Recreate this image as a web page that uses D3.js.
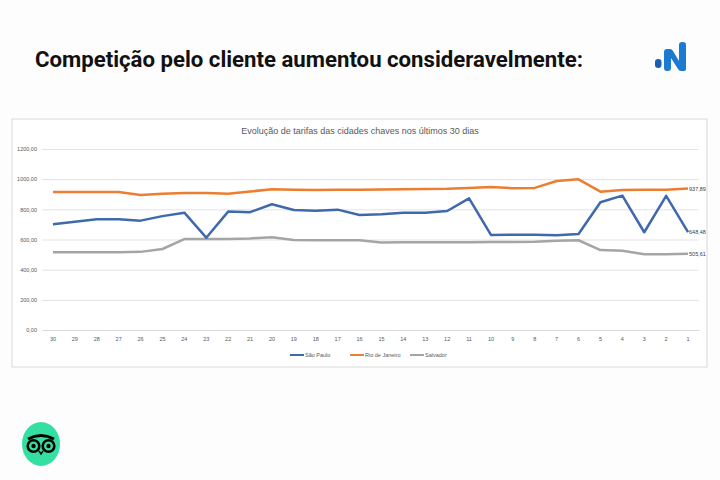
<!DOCTYPE html>
<html><head><meta charset="utf-8">
<script src="https://cdn.jsdelivr.net/npm/d3@7"></script>
<style>
html,body{margin:0;padding:0;background:#fdfdfd;}
svg{display:block;}
</style></head>
<body>
<svg id="c" width="720" height="480"></svg>
<script>
const days = ["30","29","28","27","26","25","24","23","22","21","20","19","18","17","16","15","14","13","12","11","10","9","8","7","6","5","4","3","2","1"];
const saoPaulo = [701,718,734,735,725,755,778,612,785,781,834,796,790,798,763,768,778,778,789,873,630,631,632,628,637,847,891,648,889,648.48];
const rioDeJaneiro = [915,915,915,915,895,903,908,908,903,918,933,930,928,930,930,932,933,935,936,942,948,940,942,988,999,917,928,930,930,937.89];
const salvador = [515,515,515,515,518,537,603,603,604,607,615,596,595,595,595,580,581,582,582,582,583,584,585,592,595,530,525,502,502,505.61];
const yTicks = [0,200,400,600,800,1000,1200];
const seriesNames = ["São Paulo","Rio de Janeiro","Salvador"];
const seriesColors = ["#3f68ad","#ed7d31","#a5a5a5"];
const chartTitle = "Evolução de tarifas das cidades chaves nos últimos 30 dias";
const headline = "Competição pelo cliente aumentou consideravelmente:";

const svg = d3.select("#c");
const fmt = v => d3.format(".2f")(v).replace(".", ",");

// headline
svg.append("text").attr("x",35).attr("y",67)
  .attr("font-family","Roboto, 'Noto Sans', sans-serif").attr("font-weight","700")
  .attr("font-size",22).attr("fill","#111")
  .attr("textLength",548).attr("lengthAdjust","spacingAndGlyphs")
  .text(headline);

// logo top-right
const lg = svg.append("g");
lg.append("rect").attr("x",655).attr("y",59).attr("width",6.5).attr("height",9).attr("rx",3.2).attr("fill","#1a5fae");
lg.append("path").attr("d","M664,52 Q664,49 667,49 L670,49 Q672,49 673,51 L679,61 L679,45 Q679,42 682,42 L683,42 Q686,42 686,45 L686,69 Q686,71 683,71 L681,71 Q679,71 678,69 L671,58 L671,68 Q671,71 668,71 L667,71 Q664,71 664,68 Z").attr("fill","#1c7ad0");

// chart box
svg.append("rect").attr("x",12).attr("y",119).attr("width",695).attr("height",248)
  .attr("fill","#ffffff").attr("stroke","#d9d9d9").attr("stroke-width",1);

svg.append("text").attr("x",360).attr("y",134).attr("text-anchor","middle")
  .attr("font-family","'Liberation Sans', Arial, sans-serif").attr("font-size",9).attr("fill","#595959")
  .text(chartTitle);

const x = d3.scaleBand().domain(days).range([42,699]);
const y = d3.scaleLinear().domain([0,1200]).range([330,149]);

// gridlines
const gy = svg.append("g").attr("transform","translate(42,0)")
  .call(d3.axisLeft(y).tickValues(yTicks).tickSize(-657).tickFormat(fmt).tickPadding(5));
gy.select(".domain").remove();
gy.selectAll(".tick line").attr("stroke","#e3e3e3");
gy.selectAll(".tick text").attr("font-family","'Liberation Sans', Arial, sans-serif").attr("font-size",5.5).attr("fill","#595959");

const gx = svg.append("g").attr("transform","translate(0,330)")
  .call(d3.axisBottom(x).tickSize(0).tickPadding(7));
gx.select(".domain").attr("stroke","#d9d9d9");
gx.selectAll(".tick text").attr("font-family","'Liberation Sans', Arial, sans-serif").attr("font-size",5.5).attr("fill","#595959");

const allSeries = [saoPaulo, rioDeJaneiro, salvador];
const line = d3.line().x((d,i)=>x(days[i])+x.bandwidth()/2).y(d=>y(d));
const drawOrder = [2,1,0];
drawOrder.forEach(k=>{
  svg.append("path").datum(allSeries[k]).attr("d",line).attr("fill","none")
    .attr("stroke",seriesColors[k]).attr("stroke-width",2.5).attr("stroke-linejoin","round");
});
// end labels
allSeries.forEach((s,k)=>{
  const v = s[s.length-1];
  svg.append("text").attr("x",x(days[days.length-1])+x.bandwidth()/2+1).attr("y",y(v)+2)
    .attr("font-family","'Liberation Sans', Arial, sans-serif").attr("font-size",5.5).attr("fill","#404040")
    .text(fmt(v));
});

// legend
const legendX = [290,350,410];
seriesNames.forEach((n,k)=>{
  const g = svg.append("g").attr("transform",`translate(${legendX[k]},355)`);
  g.append("line").attr("x1",0).attr("x2",14).attr("y1",0).attr("y2",0).attr("stroke",seriesColors[k]).attr("stroke-width",2);
  g.append("text").attr("x",15).attr("y",2).attr("font-family","'Liberation Sans', Arial, sans-serif")
    .attr("font-size",5.5).attr("fill","#595959").text(n);
});

// owl logo
const ow = svg.append("g").attr("transform","translate(41,444)");
ow.append("ellipse").attr("rx",19).attr("ry",22).attr("fill","#34e0a1");
ow.append("path").attr("d","M-13,-5 Q0,-12 13,-5").attr("stroke","#000").attr("stroke-width",3).attr("fill","none");
[-7.5,7.5].forEach(cx=>{
  ow.append("circle").attr("cx",cx).attr("cy",2).attr("r",5.8).attr("fill","#34e0a1").attr("stroke","#000").attr("stroke-width",2.6);
  ow.append("circle").attr("cx",cx).attr("cy",2).attr("r",2.2).attr("fill","#000");
});
ow.append("path").attr("d","M-2,7 L0,10 L2,7").attr("stroke","#000").attr("stroke-width",1.5).attr("fill","none");
</script>
</body></html>
